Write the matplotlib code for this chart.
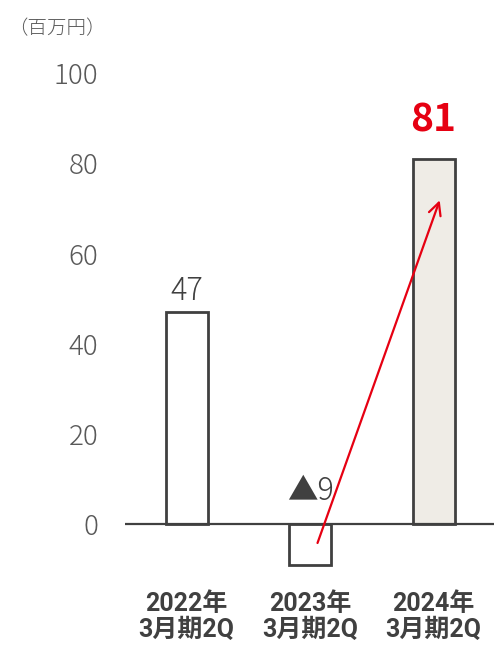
import matplotlib.pyplot as plt

plt.rcParams['font.family'] = ['Noto Sans CJK JP', 'DejaVu Sans']

# data
categories = ['2022年\n3月期2Q', '2023年\n3月期2Q', '2024年\n3月期2Q']
values = [47, -9, 81]
value_labels = ['47', '▲9', '81']
label_y = [49.7, 5.3, 87.1]
yticks = [0, 20, 40, 60, 80, 100]

fig = plt.figure(figsize=(4.94, 6.48), dpi=100)
ax = fig.add_axes([0.253, 0.0869, 0.747, 0.835])

x = range(len(categories))
face = ['white', 'white', '#EFECE6']
ax.bar(x, values, width=0.34, color=face, edgecolor='#404040', linewidth=2, zorder=2)

# baseline
ax.axhline(0, color='#404040', linewidth=1.6, zorder=3)

# value labels
ax.text(0, label_y[0], value_labels[0], ha='center', va='baseline',
        fontsize=22, color='#404040', fontweight='light')
ax.text(1, label_y[1], value_labels[1], ha='center', va='baseline',
        fontsize=22, color='#404040', fontweight='light')
ax.text(2, label_y[2], value_labels[2], ha='center', va='baseline',
        fontsize=28, color='#E60012', fontweight='bold')

# red arrow showing the jump
ax.annotate('', xy=(2.05, 71.8), xytext=(1.06, -4.2),
            arrowprops=dict(arrowstyle='->', color='#E60012', lw=1.6,
                            mutation_scale=22, shrinkA=0, shrinkB=0),
            zorder=4)

ax.set_xlim(-0.5, 2.49)
ax.set_ylim(-15, 105)
ax.set_yticks(yticks)
ax.set_yticklabels([str(t) for t in yticks], fontsize=20, color='#595959',
                   fontweight='light')
ax.set_xticks(list(x))
ax.set_xticklabels(categories, fontsize=18, fontweight='bold', color='#404040',
                   linespacing=1.1, family=['Roboto', 'Noto Sans CJK JP'])
ax.tick_params(axis='y', length=0, pad=19)
ax.tick_params(axis='x', length=0, pad=0)
for s in ax.spines.values():
    s.set_visible(False)

fig.text(0.016, 0.955, '（百万円）', fontsize=14, color='#595959', va='center',
         fontweight='light')

fig.savefig('out.png', dpi=100)
